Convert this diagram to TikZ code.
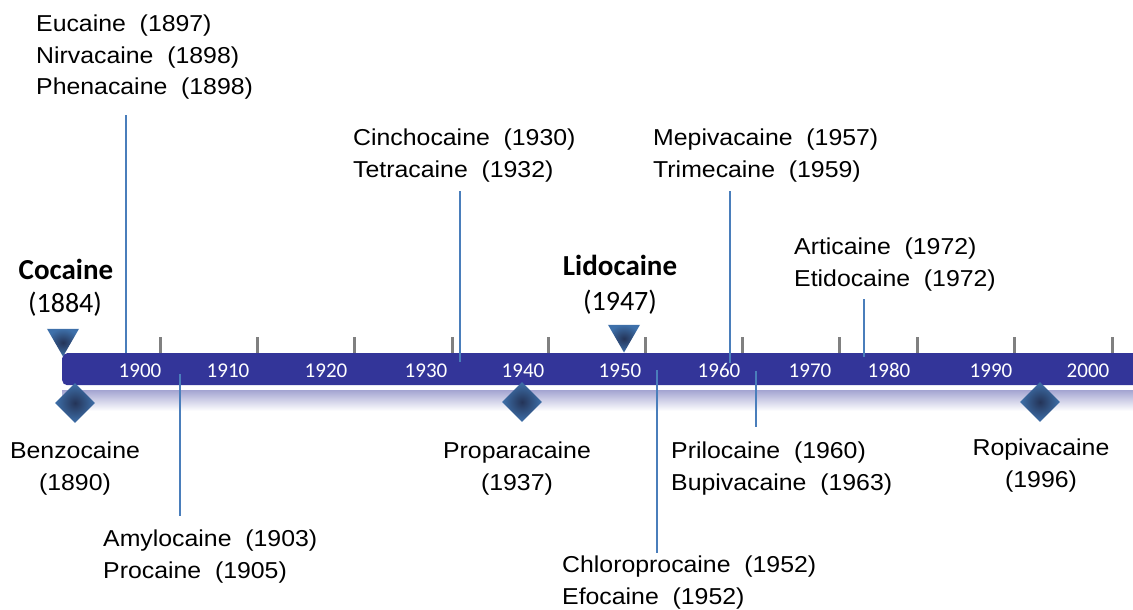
\documentclass[tikz,border=0pt]{standalone}
\usepackage{fontspec}
\setmainfont{Liberation Sans}[FakeStretch=1.08, WordSpace=2]
\newfontfamily\calibrifont{Carlito}
\usetikzlibrary{shapes,positioning}

\definecolor{barblue}{RGB}{51,53,153}
\definecolor{lineblue}{RGB}{74,126,187}
\definecolor{tickgray}{RGB}{128,128,128}
\definecolor{markdark}{RGB}{36,52,88}
\definecolor{marklight}{RGB}{62,112,170}

\begin{document}
\begin{tikzpicture}[
    x=1pt, y=-1pt,
    drug/.style={font=\fontsize{23}{31.5}\selectfont, align=left, inner sep=0pt, anchor=base west},
    drugc/.style={drug, align=center, anchor=base},
    milestone/.style={font=\calibrifont\bfseries\fontsize{29}{34}\selectfont, inner sep=0pt, anchor=base},
    milestoneyear/.style={font=\calibrifont\fontsize{28}{34}\selectfont, inner sep=0pt, anchor=base},
    yearlabel/.style={font=\calibrifont\fontsize{21}{21}\selectfont, text=white, inner sep=0pt, anchor=base},
    bar/.style={rectangle, fill=barblue, rounded corners=5pt, minimum width=1100pt, minimum height=32pt, inner sep=0pt},
    tick/.style={draw=tickgray, line width=3pt},
    link/.style={draw=lineblue, line width=2pt},
    arrowmark/.style={regular polygon, regular polygon sides=3, shape border rotate=180, minimum size=37pt, inner sep=0pt, shading=radial, inner color=markdark, outer color=marklight},
    diamondmark/.style={diamond, minimum width=40pt, minimum height=40pt, inner sep=0pt, shading=radial, inner color=markdark, outer color=marklight}
]
\useasboundingbox (0,0) rectangle (1133,610);
\clip (0,0) rectangle (1133,610);

% Timeline bar
\shade[top color=barblue!45, bottom color=white] (62,390) rectangle (1133,411);
\node[bar, anchor=north west] (bar) at (62,353) {};

% Ticks
\draw[tick] (160,337) -- (160,353);
\draw[tick] (257,337) -- (257,353);
\draw[tick] (354,337) -- (354,353);
\draw[tick] (452,337) -- (452,353);
\draw[tick] (548,337) -- (548,353);
\draw[tick] (645,337) -- (645,353);
\draw[tick] (742,337) -- (742,353);
\draw[tick] (839,337) -- (839,353);
\draw[tick] (917,337) -- (917,353);
\draw[tick] (1014,337) -- (1014,353);
\draw[tick] (1112,337) -- (1112,353);

% Decades
\node[yearlabel] (y1900) at (140,377) {1900};
\node[yearlabel] (y1910) at (228,377) {1910};
\node[yearlabel] (y1920) at (326,377) {1920};
\node[yearlabel] (y1930) at (426,377) {1930};
\node[yearlabel] (y1940) at (523,377) {1940};
\node[yearlabel] (y1950) at (620,377) {1950};
\node[yearlabel] (y1960) at (719,377) {1960};
\node[yearlabel] (y1970) at (810,377) {1970};
\node[yearlabel] (y1980) at (889,377) {1980};
\node[yearlabel] (y1990) at (991,377) {1990};
\node[yearlabel] (y2000) at (1088,377) {2000};

% Drugs above the bar (base = last line)
\node[drug] (eucaine) at (36,95) {Eucaine (1897)\\Nirvacaine (1898)\\Phenacaine (1898)};
\node[drug] (cinchocaine) at (353,177) {Cinchocaine (1930)\\Tetracaine (1932)};
\node[drug] (mepivacaine) at (653,177) {Mepivacaine (1957)\\Trimecaine (1959)};
\node[drug] (articaine) at (794,286) {Articaine (1972)\\Etidocaine (1972)};
\node[milestone] (cocaine) at (66,279) {Cocaine};
\node[milestoneyear] (cocaine-year) at (65,312) {(1884)};
\node[milestone] (lidocaine) at (620,275) {Lidocaine};
\node[milestoneyear] (lidocaine-year) at (620,310) {(1947)};

% Drugs below the bar
\node[drugc] (benzocaine) at (75,490) {Benzocaine\\(1890)};
\node[drug] (amylocaine) at (103,578) {Amylocaine (1903)\\Procaine (1905)};
\node[drugc] (proparacaine) at (517,490) {Proparacaine\\(1937)};
\node[drug] (prilocaine) at (671,490) {Prilocaine (1960)\\Bupivacaine (1963)};
\node[drug] (chloroprocaine) at (562,604) {Chloroprocaine (1952)\\Efocaine (1952)};
\node[drugc] (ropivacaine) at (1041,487) {Ropivacaine\\(1996)};

% Leader lines
\coordinate (eucaine-top) at (126,115);      \coordinate (eucaine-bar) at (126,353);
\coordinate (amylocaine-bot) at (180,516);   \coordinate (amylocaine-bar) at (180,374);
\coordinate (cinchocaine-top) at (460,191);  \coordinate (cinchocaine-bar) at (460,362);
\coordinate (chloro-bot) at (657,553);       \coordinate (chloro-bar) at (657,370);
\coordinate (mepivacaine-top) at (730,191);  \coordinate (mepivacaine-bar) at (730,363);
\coordinate (prilocaine-bot) at (756,427);   \coordinate (prilocaine-bar) at (756,371);
\coordinate (articaine-top) at (864,299);    \coordinate (articaine-bar) at (864,357);
\draw[link] (eucaine-top) -- (eucaine-bar);
\draw[link] (amylocaine-bar) -- (amylocaine-bot);
\draw[link] (cinchocaine-top) -- (cinchocaine-bar);
\draw[link] (chloro-bar) -- (chloro-bot);
\draw[link] (mepivacaine-top) -- (mepivacaine-bar);
\draw[link] (prilocaine-bar) -- (prilocaine-bot);
\draw[link] (articaine-top) -- (articaine-bar);

% Markers
\node[arrowmark] (cocaine-mark) at (63,338) {};
\node[arrowmark] (lidocaine-mark) at (624,334) {};
\node[diamondmark] (benzocaine-mark) at (75,403) {};
\node[diamondmark] (proparacaine-mark) at (522,402) {};
\node[diamondmark] (ropivacaine-mark) at (1040,402) {};

\end{tikzpicture}
\end{document}
